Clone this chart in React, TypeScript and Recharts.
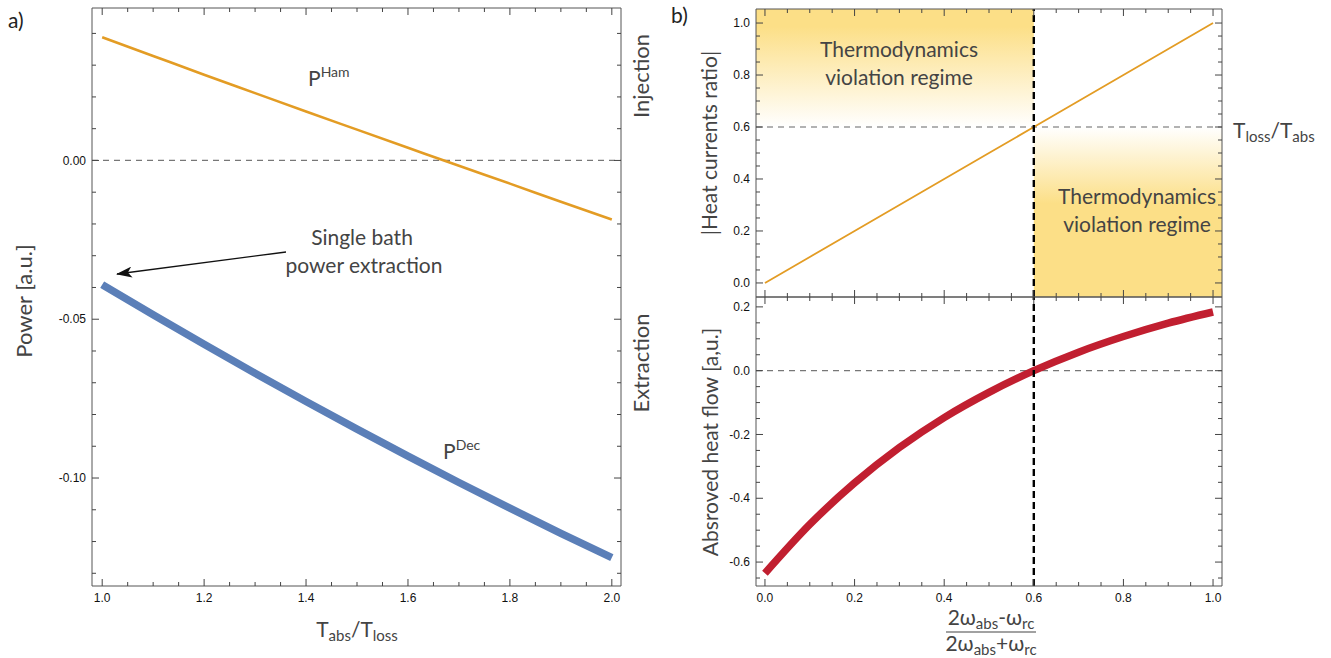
import React from "react";
import { LineChart, Line, XAxis, YAxis, ReferenceLine, ReferenceArea } from "recharts";

// panel a) : power vs T_abs/T_loss
const tempRatio = [1.0, 1.1, 1.2, 1.3, 1.4, 1.5, 1.6, 1.7, 1.8, 1.9, 2.0];
const pHam = [0.0388, 0.0329, 0.027, 0.0212, 0.0154, 0.0097, 0.004, -0.0017, -0.0073, -0.013, -0.0186];
const pDec = [-0.0391, -0.0486, -0.0579, -0.067, -0.0759, -0.0846, -0.0931, -0.1014, -0.1095, -0.1174, -0.1251];

const aXTicks = [1.0, 1.05, 1.1, 1.15, 1.2, 1.25, 1.3, 1.35, 1.4, 1.45, 1.5, 1.55, 1.6, 1.65, 1.7, 1.75, 1.8, 1.85, 1.9, 1.95, 2.0];
const aXMajor = [1.0, 1.2, 1.4, 1.6, 1.8, 2.0];
const aYTicks = [-0.13, -0.12, -0.11, -0.1, -0.09, -0.08, -0.07, -0.06, -0.05, -0.04, -0.03, -0.02, -0.01, 0, 0.01, 0.02, 0.03, 0.04];
const aYMajor = [-0.1, -0.05, 0];

// panel b) : frequency ratio
const freqRatio = [0, 0.1, 0.2, 0.3, 0.4, 0.5, 0.6, 0.7, 0.8, 0.9, 1.0];
const currentsRatio = [0, 0.1, 0.2, 0.3, 0.4, 0.5, 0.6, 0.7, 0.8, 0.9, 1.0];
const heatFlow = [-0.635, -0.482, -0.352, -0.241, -0.147, -0.068, 0.0, 0.058, 0.107, 0.149, 0.184];
const threshold = 0.6;

const bXTicks = [0, 0.05, 0.1, 0.15, 0.2, 0.25, 0.3, 0.35, 0.4, 0.45, 0.5, 0.55, 0.6, 0.65, 0.7, 0.75, 0.8, 0.85, 0.9, 0.95, 1.0];
const bXMajor = [0, 0.2, 0.4, 0.6, 0.8, 1.0];
const upYTicks = [0, 0.05, 0.1, 0.15, 0.2, 0.25, 0.3, 0.35, 0.4, 0.45, 0.5, 0.55, 0.6, 0.65, 0.7, 0.75, 0.8, 0.85, 0.9, 0.95, 1.0];
const upYMajor = [0, 0.2, 0.4, 0.6, 0.8, 1.0];
const loYTicks = [-0.65, -0.6, -0.55, -0.5, -0.45, -0.4, -0.35, -0.3, -0.25, -0.2, -0.15, -0.1, -0.05, 0, 0.05, 0.1, 0.15, 0.2];
const loYMajor = [-0.6, -0.4, -0.2, 0, 0.2];

const powerData = tempRatio.map((x, i) => ({ x, ham: pHam[i], dec: pDec[i] }));
const ratioData = freqRatio.map((x, i) => ({ x, ratio: currentsRatio[i], heat: heatFlow[i] }));

const TICK_FONT = "'Liberation Sans', Arial, sans-serif";
const TEXT_FONT = "Lato, 'Open Sans', sans-serif";
const YELLOW = "#FCDF87";

// Mathematica-like frame ticks: pointing inward, labels only on left/bottom
function frameTick(side: string, majors: number[], fmt: ((v: number) => string) | null) {
  return (props: any) => {
    const { x, y, payload } = props;
    const v = payload.value;
    const major = majors.some((m) => Math.abs(m - v) < 1e-9);
    const len = major ? 7 : 4;
    let line = null;
    let label = null;
    if (side === "left") {
      line = <line x1={x} y1={y} x2={x + len} y2={y} stroke="#444" strokeWidth={1} />;
      if (major && fmt) label = <text x={x - 6} y={y} dy="0.35em" textAnchor="end" stroke="none">{fmt(v)}</text>;
    } else if (side === "right") {
      line = <line x1={x} y1={y} x2={x - len} y2={y} stroke="#444" strokeWidth={1} />;
    } else if (side === "bottom") {
      line = <line x1={x} y1={y} x2={x} y2={y - len} stroke="#444" strokeWidth={1} />;
      if (major && fmt) label = <text x={x} y={y + 12} dy="0.35em" textAnchor="middle" stroke="none">{fmt(v)}</text>;
    } else {
      line = <line x1={x} y1={y} x2={x} y2={y + len} stroke="#444" strokeWidth={1} />;
    }
    return (
      <g fontFamily={TICK_FONT} fontSize={12} fill="#111">
        {line}
        {label}
      </g>
    );
  };
}

const f1 = (v: number) => v.toFixed(1);
const f2 = (v: number) => v.toFixed(2);

const frame = { stroke: "#555", strokeWidth: 1 };

function PowerPanel() {
  const xd: [number, number] = [0.98, 2.018];
  const yd: [number, number] = [-0.134, 0.048];
  return (
    <LineChart width={660} height={658} data={powerData} margin={{ top: 7, right: 38, bottom: 71, left: 91 }}>
      <XAxis xAxisId="b" type="number" dataKey="x" domain={xd} ticks={aXTicks} interval={0} allowDataOverflow
        height={1} tickSize={0} tickMargin={0} tickLine={false} axisLine={frame} tick={frameTick("bottom", aXMajor, f1)} />
      <XAxis xAxisId="t" orientation="top" type="number" dataKey="x" domain={xd} ticks={aXTicks} interval={0} allowDataOverflow
        height={1} tickSize={0} tickMargin={0} tickLine={false} axisLine={frame} tick={frameTick("top", aXMajor, null)} />
      <YAxis yAxisId="l" type="number" domain={yd} ticks={aYTicks} interval={0} allowDataOverflow
        width={1} tickSize={0} tickMargin={0} tickLine={false} axisLine={frame} tick={frameTick("left", aYMajor, f2)} />
      <YAxis yAxisId="r" orientation="right" type="number" domain={yd} ticks={aYTicks} interval={0} allowDataOverflow
        width={1} tickSize={0} tickMargin={0} tickLine={false} axisLine={frame} tick={frameTick("right", aYMajor, null)} />
      <ReferenceLine xAxisId="b" yAxisId="l" y={0} stroke="#777" strokeWidth={1.2} strokeDasharray="6 5" />
      <Line xAxisId="t" yAxisId="r" dataKey="ham" stroke="none" dot={false} isAnimationActive={false} />
      <Line xAxisId="b" yAxisId="l" type="monotone" dataKey="ham" stroke="#E39C24" strokeWidth={2.6} dot={false} isAnimationActive={false} />
      <Line xAxisId="b" yAxisId="l" type="monotone" dataKey="dec" stroke="#5B7FB8" strokeWidth={7.5} dot={false} isAnimationActive={false} />
    </LineChart>
  );
}

function RatioPanel() {
  const xd: [number, number] = [-0.02, 1.02];
  const yd: [number, number] = [-0.054, 1.054];
  return (
    <LineChart width={1331} height={658} data={ratioData} margin={{ top: 8, right: 108, bottom: 360, left: 755 }}>
      <defs>
        <linearGradient id="violTop" x1="0" y1="0" x2="0" y2="1">
          <stop offset="0" stopColor={YELLOW} />
          <stop offset="0.15" stopColor={YELLOW} />
          <stop offset="1" stopColor="#FFFFFF" />
        </linearGradient>
        <linearGradient id="violBottom" x1="0" y1="0" x2="0" y2="1">
          <stop offset="0" stopColor="#FFFFFF" />
          <stop offset="0.45" stopColor={YELLOW} />
          <stop offset="1" stopColor={YELLOW} />
        </linearGradient>
      </defs>
      <XAxis xAxisId="b" type="number" dataKey="x" domain={xd} ticks={bXTicks} interval={0} allowDataOverflow
        height={1} tickSize={0} tickMargin={0} tickLine={false} axisLine={frame} tick={frameTick("bottom", bXMajor, null)} />
      <XAxis xAxisId="t" orientation="top" type="number" dataKey="x" domain={xd} ticks={bXTicks} interval={0} allowDataOverflow
        height={1} tickSize={0} tickMargin={0} tickLine={false} axisLine={frame} tick={frameTick("top", bXMajor, null)} />
      <YAxis yAxisId="l" type="number" domain={yd} ticks={upYTicks} interval={0} allowDataOverflow
        width={1} tickSize={0} tickMargin={0} tickLine={false} axisLine={frame} tick={frameTick("left", upYMajor, f1)} />
      <YAxis yAxisId="r" orientation="right" type="number" domain={yd} ticks={upYTicks} interval={0} allowDataOverflow
        width={1} tickSize={0} tickMargin={0} tickLine={false} axisLine={frame} tick={frameTick("right", upYMajor, null)} />
      <ReferenceArea xAxisId="b" yAxisId="l" x1={xd[0]} x2={threshold} y1={threshold} y2={yd[1]} fill="url(#violTop)" fillOpacity={1} stroke="none" />
      <ReferenceArea xAxisId="b" yAxisId="l" x1={threshold} x2={xd[1]} y1={yd[0]} y2={threshold} fill="url(#violBottom)" fillOpacity={1} stroke="none" />
      <ReferenceLine xAxisId="b" yAxisId="l" y={threshold} stroke="#666" strokeWidth={1.2} strokeDasharray="6 5" />
      <Line xAxisId="t" yAxisId="r" dataKey="ratio" stroke="none" dot={false} isAnimationActive={false} />
      <Line xAxisId="b" yAxisId="l" type="linear" dataKey="ratio" stroke="#E39C24" strokeWidth={1.8} dot={false} isAnimationActive={false} />
      <ReferenceLine xAxisId="b" yAxisId="l" x={threshold} stroke="#000" strokeWidth={2.4} strokeDasharray="7 4" />
    </LineChart>
  );
}

function HeatPanel() {
  const xd: [number, number] = [-0.02, 1.02];
  const yd: [number, number] = [-0.675, 0.231];
  return (
    <LineChart width={1331} height={658} data={ratioData} margin={{ top: 296, right: 108, bottom: 71, left: 755 }}>
      <XAxis xAxisId="b" type="number" dataKey="x" domain={xd} ticks={bXTicks} interval={0} allowDataOverflow
        height={1} tickSize={0} tickMargin={0} tickLine={false} axisLine={frame} tick={frameTick("bottom", bXMajor, f1)} />
      <XAxis xAxisId="t" orientation="top" type="number" dataKey="x" domain={xd} ticks={bXTicks} interval={0} allowDataOverflow
        height={1} tickSize={0} tickMargin={0} tickLine={false} axisLine={frame} tick={frameTick("top", bXMajor, null)} />
      <YAxis yAxisId="l" type="number" domain={yd} ticks={loYTicks} interval={0} allowDataOverflow
        width={1} tickSize={0} tickMargin={0} tickLine={false} axisLine={frame} tick={frameTick("left", loYMajor, f1)} />
      <YAxis yAxisId="r" orientation="right" type="number" domain={yd} ticks={loYTicks} interval={0} allowDataOverflow
        width={1} tickSize={0} tickMargin={0} tickLine={false} axisLine={frame} tick={frameTick("right", loYMajor, null)} />
      <ReferenceLine xAxisId="b" yAxisId="l" y={0} stroke="#777" strokeWidth={1.2} strokeDasharray="6 5" />
      <Line xAxisId="t" yAxisId="r" dataKey="heat" stroke="none" dot={false} isAnimationActive={false} />
      <Line xAxisId="b" yAxisId="l" type="monotone" dataKey="heat" stroke="#C11F30" strokeWidth={7.5} dot={false} isAnimationActive={false} />
      <ReferenceLine xAxisId="b" yAxisId="l" x={threshold} stroke="#000" strokeWidth={2.4} strokeDasharray="7 4" />
    </LineChart>
  );
}

function Annotations() {
  const sub = { fontSize: 15 };
  return (
    <svg width={1331} height={658} style={{ position: "absolute", left: 0, top: 0, pointerEvents: "none" }}
      fontFamily={TEXT_FONT} fill="#444">
      <defs>
        <marker id="arrowHead" markerWidth="16" markerHeight="11" refX="15" refY="5.5" orient="auto" markerUnits="userSpaceOnUse">
          <path d="M0,0 L16,5.5 L0,11 L4,5.5 Z" fill="#111" />
        </marker>
      </defs>
      <text x={8} y={28} fontSize={21} fill="#222">a)</text>
      <text x={671} y={23} fontSize={21} fill="#222">b)</text>

      <text transform="translate(23,301) rotate(-90)" textAnchor="middle" dominantBaseline="central" fontSize={22}>Power [a.u.]</text>
      <text transform="translate(640,76) rotate(-90)" textAnchor="middle" dominantBaseline="central" fontSize={22}>Injection</text>
      <text transform="translate(640,363) rotate(-90)" textAnchor="middle" dominantBaseline="central" fontSize={22}>Extraction</text>

      <text x={308} y={86} fontSize={21}>P<tspan dy={-9} fontSize={14}>Ham</tspan></text>
      <text x={443} y={459} fontSize={21}>P<tspan dy={-9} fontSize={14}>Dec</tspan></text>

      <text x={362} y={245} textAnchor="middle" fontSize={21}>Single bath</text>
      <text x={364} y={273} textAnchor="middle" fontSize={21}>power extraction</text>
      <line x1={286} y1={252} x2={117} y2={274} stroke="#111" strokeWidth={1.4} markerEnd="url(#arrowHead)" />

      <text x={357} y={637} textAnchor="middle" fontSize={21}>
        T<tspan dy={4} style={sub}>abs</tspan><tspan dy={-4}>/T</tspan><tspan dy={4} style={sub}>loss</tspan>
      </text>

      <text transform="translate(708,143) rotate(-90)" textAnchor="middle" dominantBaseline="central" fontSize={21}>|Heat currents ratio|</text>
      <text transform="translate(709,442) rotate(-90)" textAnchor="middle" dominantBaseline="central" fontSize={21}>Absroved heat flow [a,u.]</text>

      <text x={899} y={57} textAnchor="middle" fontSize={21}>Thermodynamics</text>
      <text x={899} y={85} textAnchor="middle" fontSize={21}>violation regime</text>
      <text x={1137} y={204} textAnchor="middle" fontSize={21}>Thermodynamics</text>
      <text x={1137} y={232} textAnchor="middle" fontSize={21}>violation regime</text>

      <text x={1233} y={138} fontSize={21}>
        T<tspan dy={4} style={sub}>loss</tspan><tspan dy={-4}>/T</tspan><tspan dy={4} style={sub}>abs</tspan>
      </text>

      <text x={991} y={625} textAnchor="middle" fontSize={21}>
        2ω<tspan dy={4} style={sub}>abs</tspan><tspan dy={-4}>-ω</tspan><tspan dy={4} style={sub}>rc</tspan>
      </text>
      <line x1={946} y1={632} x2={1036} y2={632} stroke="#444" strokeWidth={1.2} />
      <text x={991} y={651} textAnchor="middle" fontSize={21}>
        2ω<tspan dy={4} style={sub}>abs</tspan><tspan dy={-4}>+ω</tspan><tspan dy={4} style={sub}>rc</tspan>
      </text>
    </svg>
  );
}

export default function App() {
  const layer: React.CSSProperties = { position: "absolute", left: 0, top: 0 };
  return (
    <div style={{ position: "absolute", left: 0, top: 0, width: 1331, height: 658, background: "#fff", overflow: "hidden" }}>
      <div style={layer}><PowerPanel /></div>
      <div style={layer}><RatioPanel /></div>
      <div style={layer}><HeatPanel /></div>
      <Annotations />
    </div>
  );
}
